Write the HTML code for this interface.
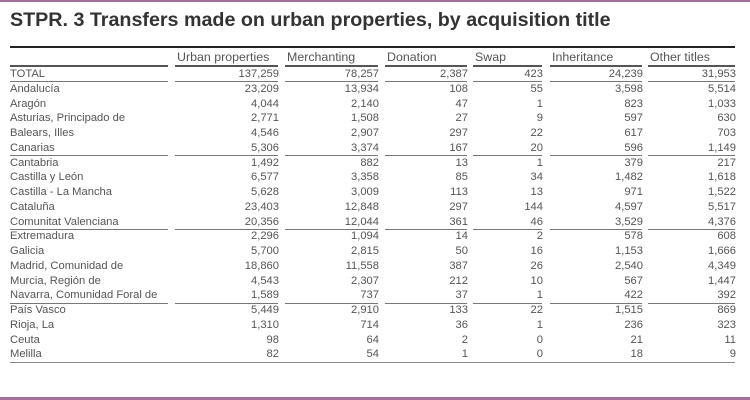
<!DOCTYPE html>
<html><head><meta charset="utf-8"><style>
body{margin:0;width:750px;height:400px;background:#fff;position:relative;overflow:hidden;font-family:"Liberation Sans",Arial,sans-serif;}
.t{position:absolute;left:10px;top:9px;font-size:19.7px;font-weight:bold;color:#333;white-space:nowrap;}
.r{position:absolute;left:0;width:750px;height:14px;line-height:14px;font-size:11.2px;color:#555;}
.r span{position:absolute;top:0;white-space:nowrap;}
.h span{font-size:12.4px;color:#555;}
.ln{position:absolute;height:1px;background:#777;}
</style></head><body>
<div style="position:absolute;left:0;top:0;width:750px;height:2px;background:#a0709a"></div>
<div style="position:absolute;left:0;top:397px;width:750px;height:3px;background:#a0709a"></div>
<div class="t">STPR. 3 Transfers made on urban properties, by acquisition title</div>
<div style="position:absolute;left:10px;top:46px;width:725px;height:2px;background:#222"></div>
<div id="c"></div>
<script>
var cols=[[10,168],[175,278],[285,378],[385,467],[473,542],[550,642],[648,735]];
var H=["","Urban properties","Merchanting","Donation","Swap","Inheritance","Other titles"];
var D=[["TOTAL","137,259","78,257","2,387","423","24,239","31,953"],
["Andalucía","23,209","13,934","108","55","3,598","5,514"],
["Aragón","4,044","2,140","47","1","823","1,033"],
["Asturias, Principado de","2,771","1,508","27","9","597","630"],
["Balears, Illes","4,546","2,907","297","22","617","703"],
["Canarias","5,306","3,374","167","20","596","1,149"],
["Cantabria","1,492","882","13","1","379","217"],
["Castilla y León","6,577","3,358","85","34","1,482","1,618"],
["Castilla - La Mancha","5,628","3,009","113","13","971","1,522"],
["Cataluña","23,403","12,848","297","144","4,597","5,517"],
["Comunitat Valenciana","20,356","12,044","361","46","3,529","4,376"],
["Extremadura","2,296","1,094","14","2","578","608"],
["Galicia","5,700","2,815","50","16","1,153","1,666"],
["Madrid, Comunidad de","18,860","11,558","387","26","2,540","4,349"],
["Murcia, Región de","4,543","2,307","212","10","567","1,447"],
["Navarra, Comunidad Foral de","1,589","737","37","1","422","392"],
["País Vasco","5,449","2,910","133","22","1,515","869"],
["Rioja, La","1,310","714","36","1","236","323"],
["Ceuta","98","64","2","0","21","11"],
["Melilla","82","54","1","0","18","9"]];
var s="";
s+='<div class="r h" style="top:50px">';
for(var j=1;j<7;j++)s+='<span style="left:'+(cols[j][0]+2)+'px">'+H[j]+'</span>';
s+='</div>';
function seg(y,c){for(var j=0;j<7;j++)s+='<div class="ln" style="top:'+y+'px;left:'+cols[j][0]+'px;width:'+(cols[j][1]-cols[j][0])+'px;'+(c||'')+'"></div>';}
seg(65,"height:2px;background:#555");
for(var i=0;i<D.length;i++){
 var y=Math.round(67+i*14.75);
 s+='<div class="r" style="top:'+y+'px"><span style="left:10px">'+D[i][0]+'</span>';
 for(var j=1;j<7;j++)s+='<span style="right:'+(750-cols[j][1]-1)+'px">'+D[i][j]+'</span>';
 s+='</div>';
}
seg(81);seg(155);seg(229);seg(303);
s+='<div class="ln" style="top:362px;left:10px;width:725px;background:#888"></div>';
document.getElementById("c").innerHTML=s;
</script>
</body></html>
